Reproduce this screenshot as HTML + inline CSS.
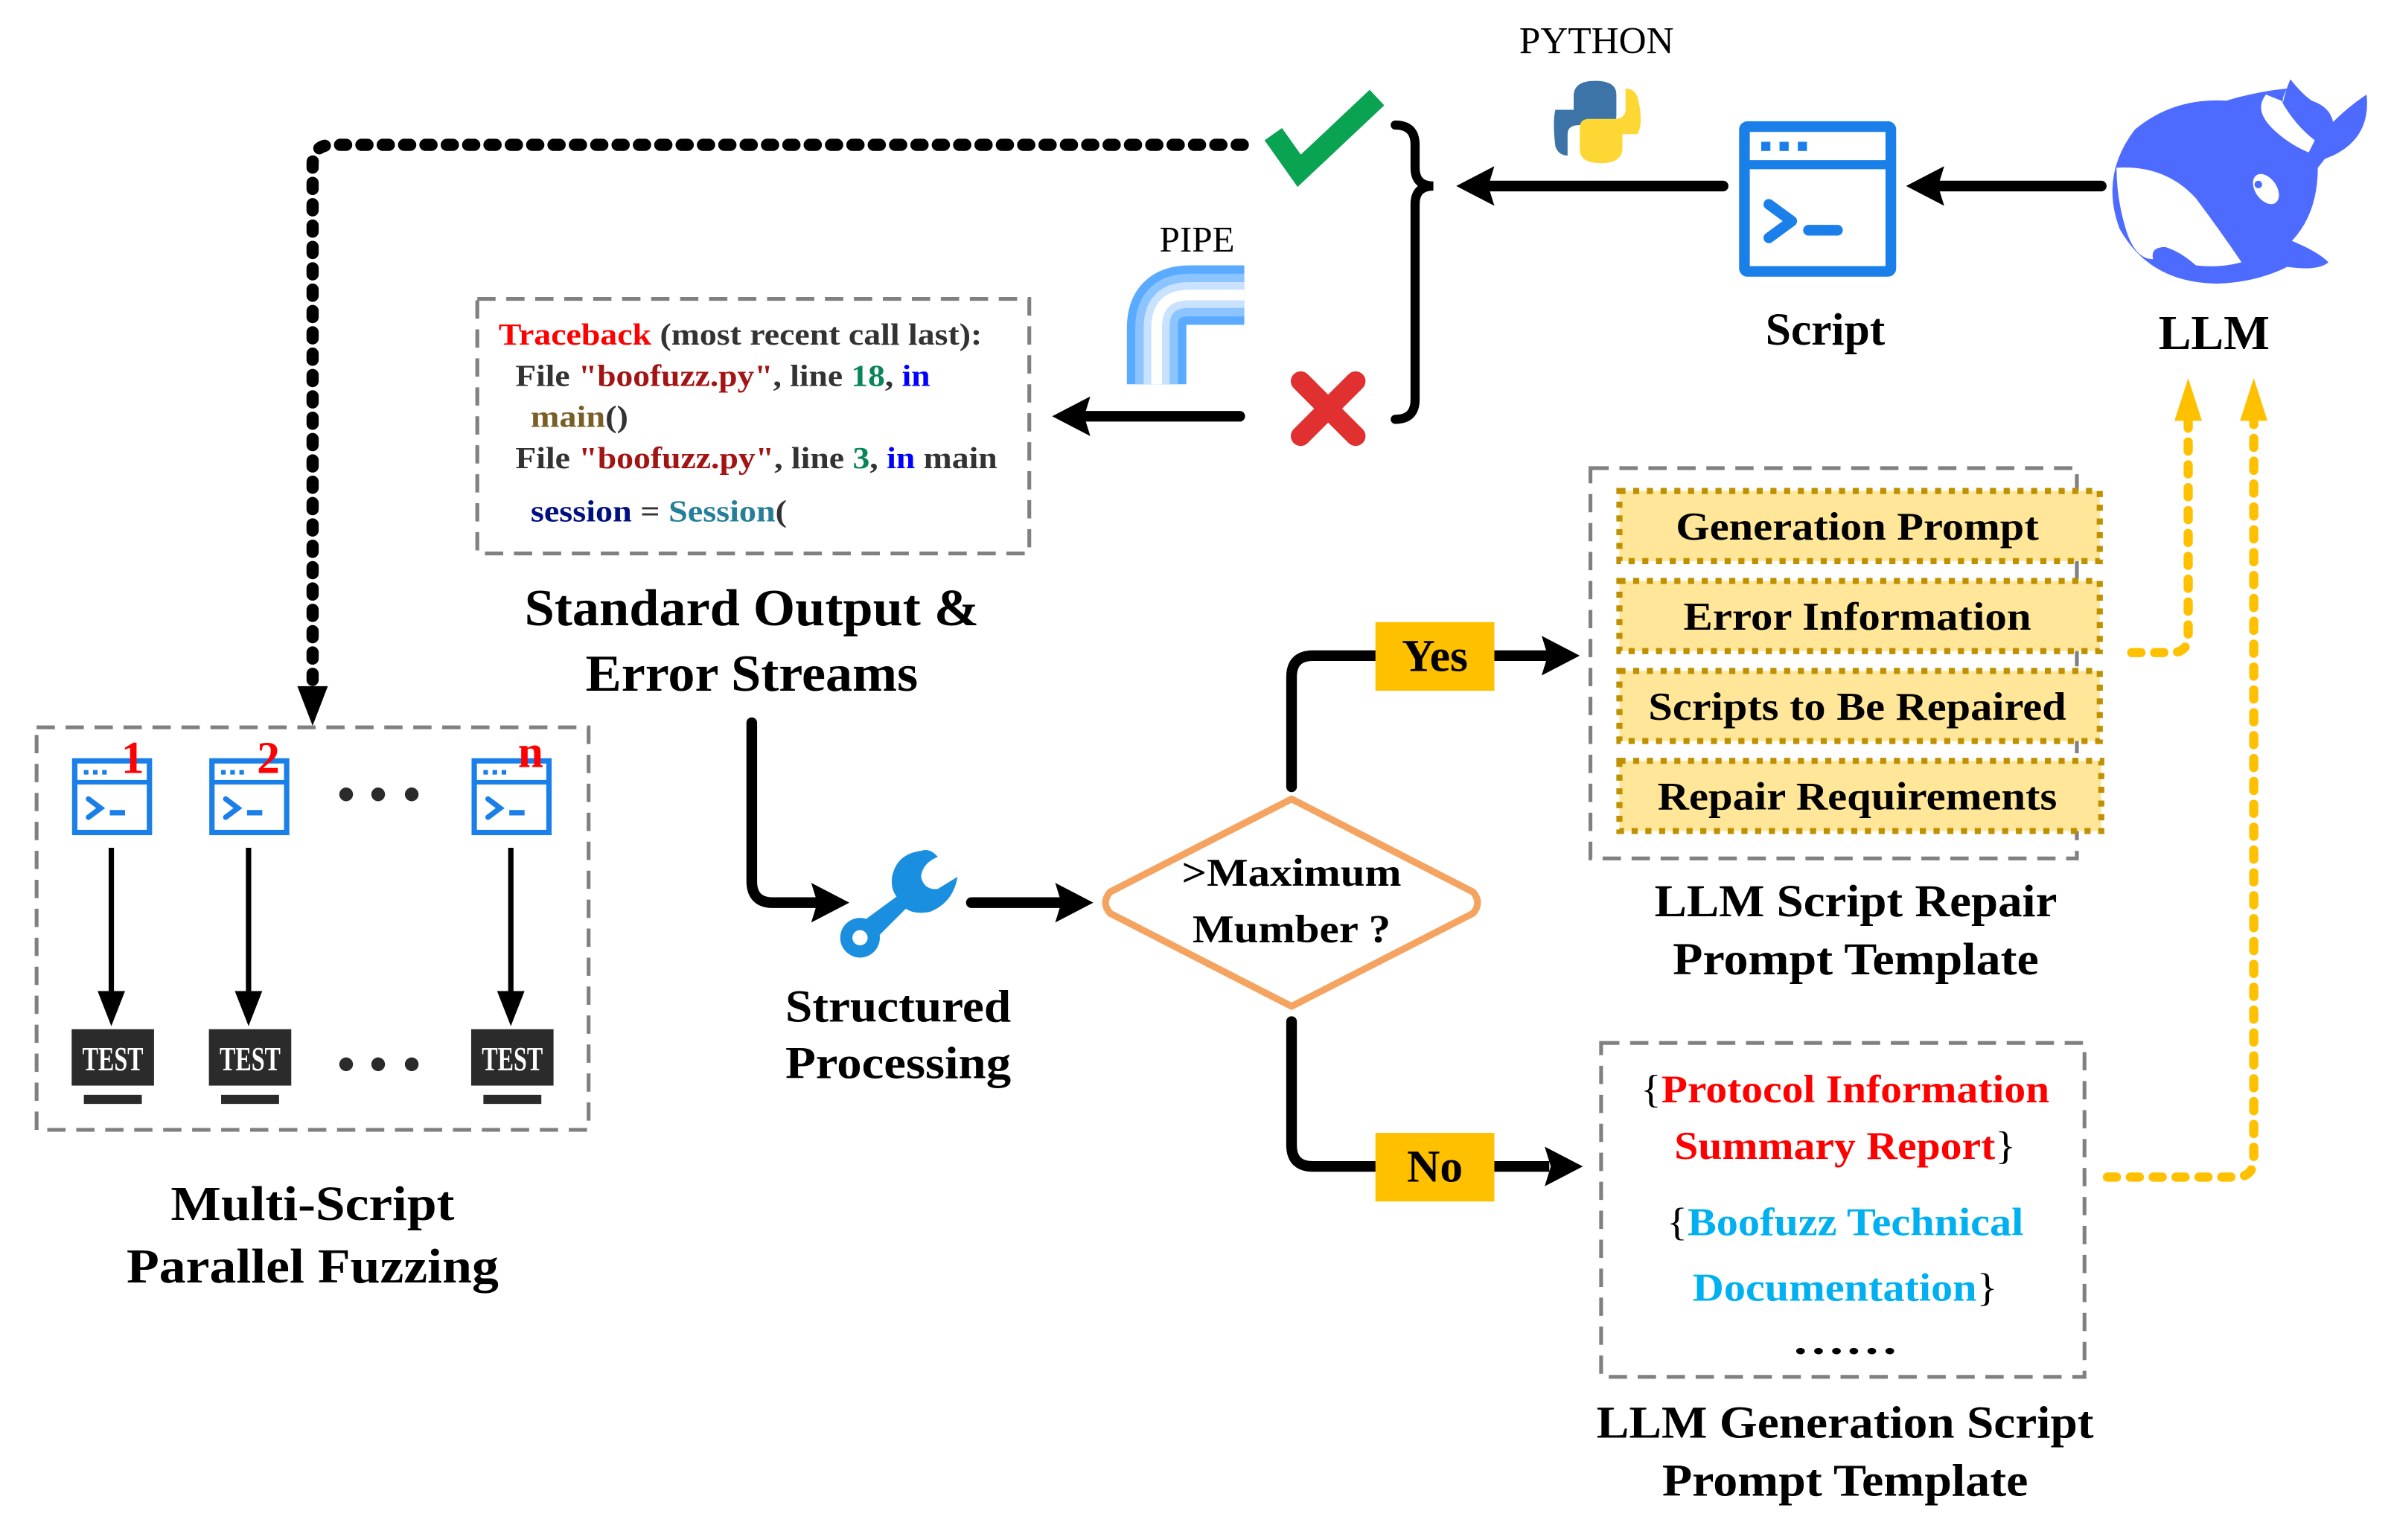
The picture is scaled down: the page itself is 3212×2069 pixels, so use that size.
<!DOCTYPE html>
<html><head><meta charset="utf-8"><style>
html,body{margin:0;padding:0;background:#fff;}
svg{display:block;font-family:"Liberation Serif","Times New Roman",Times,serif;}
svg text{font-family:"Liberation Serif","Times New Roman",Times,serif;}
</style></head><body>
<svg width="3212" height="2069" viewBox="0 0 1568 1010" preserveAspectRatio="none" xmlns="http://www.w3.org/2000/svg" font-family="Liberation Serif, Times New Roman, serif">

<!-- dotted black feedback path -->
<path d="M815,95 H218 Q205,95 205,108 V455" fill="none" stroke="#000" stroke-width="8" stroke-dasharray="4 10" stroke-linecap="round"/>
<path d="M195,450 L215,450 L205,476 z" fill="#000"/>

<!-- check -->
<path d="M835,88 L852,112 L903,64" fill="none" stroke="#0aa352" stroke-width="14" stroke-linejoin="miter"/>
<!-- red X -->
<g stroke="#e03030" stroke-width="13" stroke-linecap="round">
<line x1="853" y1="250" x2="889" y2="286"/><line x1="889" y1="250" x2="853" y2="286"/>
</g>
<!-- brace -->
<path d="M915,82 Q928,82 928,95 V110 Q928,122 940,122 Q928,122 928,134 V262 Q928,275 915,275" fill="none" stroke="#000" stroke-width="6" stroke-linecap="round"/>

<!-- arrows top -->
<line x1="1130" y1="122" x2="975" y2="122" stroke="#000" stroke-width="7" stroke-linecap="round"/>
<path d="M955,122 L980,109 L976,122 L980,135 z" fill="#000"/>
<line x1="1378" y1="122" x2="1270" y2="122" stroke="#000" stroke-width="7" stroke-linecap="round"/>
<path d="M1250,122 L1275,109 L1271,122 L1275,135 z" fill="#000"/>

<!-- python logo -->
<text x="1047" y="35" font-size="25" text-anchor="middle">PYTHON</text>
<g>
<path d="M1046,53 Q1032,53 1032,63 V72 H1020 Q1018,80 1020,96 Q1022,102 1028,102 V88 Q1028,82 1036,82 H1054 Q1060,82 1060,76 V62 Q1060,53 1046,53z" fill="#3d74a8"/>
<path d="M1050,107 Q1064,107 1064,97 V88 H1074 Q1078,80 1074,64 Q1072,58 1066,58 V72 Q1066,78 1058,78 H1042 Q1036,78 1036,84 V98 Q1036,107 1050,107z" fill="#fdd835"/>
</g>

<!-- script icon -->
<rect x="1144" y="83" width="96" height="95" rx="2" fill="none" stroke="#1a7fe8" stroke-width="7"/>
<line x1="1144" y1="108" x2="1240" y2="108" stroke="#1a7fe8" stroke-width="6"/>
<g fill="#1a7fe8"><rect x="1155" y="93" width="6" height="6"/><rect x="1167" y="93" width="6" height="6"/><rect x="1179" y="93" width="6" height="6"/></g>
<path d="M1160,134 L1175,145 L1160,156" fill="none" stroke="#1a7fe8" stroke-width="7" stroke-linecap="round" stroke-linejoin="round"/>
<line x1="1186" y1="151" x2="1205" y2="151" stroke="#1a7fe8" stroke-width="7" stroke-linecap="round"/>
<text x="1197" y="226" font-size="30" font-weight="bold" text-anchor="middle">Script</text>

<!-- whale -->
<g fill="#4d6bfe">
<path d="M1400,85 Q1425,64 1460,66 Q1480,60 1500,58 Q1492,70 1505,80 Q1520,92 1528,100 L1520,110 Q1520,140 1503,158 Q1520,165 1527,172 Q1520,178 1500,175 Q1480,185 1455,186 Q1410,186 1390,150 Q1377,115 1400,85z"/>
<path d="M1498,100 Q1492,75 1502,52 Q1510,62 1516,66 Q1528,70 1530,80 Q1540,70 1552,62 Q1555,90 1530,102 L1515,108z"/>
</g>
<g fill="#fff">
<path d="M1388,110 Q1420,108 1440,130 Q1455,150 1470,172 Q1455,176 1440,174 Q1430,165 1420,162 Q1410,162 1412,170 Q1400,170 1394,150 Q1388,130 1388,110z"/>
<path d="M1486,62 Q1478,72 1490,84 Q1500,94 1514,100 L1518,92 Q1505,82 1496,66z"/>
<ellipse cx="1486" cy="124" rx="7" ry="11" transform="rotate(-35 1486 124)"/>
</g>
<circle cx="1481" cy="121" r="2.5" fill="#4d6bfe"/>
<text x="1452" y="229" font-size="32" font-weight="bold" text-anchor="middle">LLM</text>

<!-- pipe -->
<text x="785" y="165" font-size="24" text-anchor="middle">PIPE</text>
<g fill="none" stroke-linejoin="round">
<path d="M758.5,252 V215 Q758.5,193.5 780,193.5 H816" stroke="#5aabff" stroke-width="39"/>
<path d="M758.5,252 V215 Q758.5,193.5 780,193.5 H816" stroke="#8cc4ff" stroke-width="28"/>
<path d="M758.5,252 V215 Q758.5,193.5 780,193.5 H816" stroke="#c8e2ff" stroke-width="17"/>
<path d="M758.5,252 V215 Q758.5,193.5 780,193.5 H816" stroke="#fff" stroke-width="7"/>
</g>
<line x1="813" y1="273" x2="710" y2="273" stroke="#000" stroke-width="7" stroke-linecap="round"/>
<path d="M690,273 L715,260 L711,273 L715,286 z" fill="#000"/>

<!-- traceback box -->
<rect x="313" y="196" width="362" height="167" fill="none" stroke="#808080" stroke-width="2.5" stroke-dasharray="12 7"/>
<g font-size="20" font-weight="bold">
<text x="327" y="226" textLength="317" lengthAdjust="spacingAndGlyphs"><tspan fill="#ff0000">Traceback</tspan><tspan fill="#333"> (most recent call last):</tspan></text>
<text x="338" y="253" textLength="272" lengthAdjust="spacingAndGlyphs"><tspan fill="#333">File </tspan><tspan fill="#a31515">"boofuzz.py"</tspan><tspan fill="#333">, line </tspan><tspan fill="#098658">18</tspan><tspan fill="#333">, </tspan><tspan fill="#0000ff">in</tspan></text>
<text x="348" y="280" textLength="64" lengthAdjust="spacingAndGlyphs"><tspan fill="#795e26">main</tspan><tspan fill="#333">()</tspan></text>
<text x="338" y="307" textLength="316" lengthAdjust="spacingAndGlyphs"><tspan fill="#333">File </tspan><tspan fill="#a31515">"boofuzz.py"</tspan><tspan fill="#333">, line </tspan><tspan fill="#098658">3</tspan><tspan fill="#333">, </tspan><tspan fill="#0000ff">in</tspan><tspan fill="#333"> main</tspan></text>
<text x="348" y="342" textLength="168" lengthAdjust="spacingAndGlyphs"><tspan fill="#001080">session</tspan><tspan fill="#333"> = </tspan><tspan fill="#267f99">Session</tspan><tspan fill="#333">(</tspan></text>
</g>
<g font-size="34" font-weight="bold" text-anchor="middle">
<text x="493" y="410" textLength="298" lengthAdjust="spacingAndGlyphs">Standard Output  &amp;</text>
<text x="493" y="453" textLength="218" lengthAdjust="spacingAndGlyphs">Error Streams</text>
</g>

<!-- to wrench -->
<path d="M493,474 V578 Q493,592 507,592 H535" fill="none" stroke="#000" stroke-width="7" stroke-linecap="round"/>
<path d="M557,592 L532,579 L536,592 L532,605 z" fill="#000"/>
<!-- wrench -->
<g fill="#1a8fe0">
<path d="M604,558 Q588,560 585,575 Q584,583 588,588 L558,610 L570,620 L594,596 Q600,600 610,598 Q625,592 628,575 L615,583 Q606,584 604,575 Q605,566 615,562 Q610,556 604,558z"/>
<circle cx="564" cy="615" r="13"/>
</g>
<circle cx="564" cy="615" r="5" fill="#fff"/>
<g font-size="30" font-weight="bold" text-anchor="middle">
<text x="589" y="670" textLength="148" lengthAdjust="spacingAndGlyphs">Structured</text>
<text x="589" y="707" textLength="148" lengthAdjust="spacingAndGlyphs">Processing</text>
</g>
<line x1="637" y1="592" x2="695" y2="592" stroke="#000" stroke-width="7" stroke-linecap="round"/>
<path d="M717,592 L692,579 L696,592 L692,605 z" fill="#000"/>

<!-- diamond -->
<path d="M847,524 L966,585 Q972,592 966,599 L847,660 L728,599 Q722,592 728,585 z" fill="#fff" stroke="#f4a460" stroke-width="4.5" stroke-linejoin="round"/>
<g font-size="26" font-weight="bold" text-anchor="middle">
<text x="847" y="581" textLength="144" lengthAdjust="spacingAndGlyphs">&gt;Maximum</text>
<text x="847" y="618" textLength="130" lengthAdjust="spacingAndGlyphs">Mumber ?</text>
</g>

<!-- yes branch -->
<path d="M847,516 V444 Q847,430 861,430 H905" fill="none" stroke="#000" stroke-width="7" stroke-linecap="round"/>
<rect x="902" y="408" width="78" height="45" fill="#ffc000"/>
<text x="941" y="440" font-size="30" font-weight="bold" text-anchor="middle">Yes</text>
<line x1="980" y1="430" x2="1015" y2="430" stroke="#000" stroke-width="7"/>
<path d="M1036,430 L1011,417 L1015,430 L1011,443 z" fill="#000"/>
<!-- no branch -->
<path d="M847,670 V751 Q847,765 861,765 H905" fill="none" stroke="#000" stroke-width="7" stroke-linecap="round"/>
<rect x="902" y="743" width="78" height="45" fill="#ffc000"/>
<text x="941" y="775" font-size="30" font-weight="bold" text-anchor="middle">No</text>
<line x1="980" y1="765" x2="1016" y2="765" stroke="#000" stroke-width="7"/>
<path d="M1038,765 L1013,752 L1017,765 L1013,778 z" fill="#000"/>

<!-- repair template -->
<rect x="1043" y="307" width="319" height="256" fill="none" stroke="#808080" stroke-width="2.5" stroke-dasharray="12 7"/>
<g fill="#ffe699" stroke="#bf9000" stroke-width="4" stroke-dasharray="4 5">
<rect x="1062" y="322" width="315" height="46"/>
<rect x="1062" y="381" width="315" height="46"/>
<rect x="1062" y="440" width="315" height="46"/>
<rect x="1062" y="499" width="316" height="46"/>
</g>
<g font-size="26" font-weight="bold" text-anchor="middle">
<text x="1218" y="354" textLength="238" lengthAdjust="spacingAndGlyphs">Generation Prompt</text>
<text x="1218" y="413" textLength="228" lengthAdjust="spacingAndGlyphs">Error Information</text>
<text x="1218" y="472" textLength="274" lengthAdjust="spacingAndGlyphs">Scripts to Be Repaired</text>
<text x="1218" y="531" textLength="262" lengthAdjust="spacingAndGlyphs">Repair Requirements</text>
</g>
<g font-size="30" font-weight="bold" text-anchor="middle">
<text x="1217" y="601" textLength="264" lengthAdjust="spacingAndGlyphs">LLM Script Repair</text>
<text x="1217" y="639" textLength="240" lengthAdjust="spacingAndGlyphs">Prompt Template</text>
</g>

<!-- generation template -->
<rect x="1050" y="684" width="317" height="219" fill="none" stroke="#808080" stroke-width="2.5" stroke-dasharray="12 7"/>
<g font-size="26" font-weight="bold" text-anchor="middle">
<text x="1210" y="723" textLength="268" lengthAdjust="spacingAndGlyphs"><tspan font-weight="normal">{</tspan><tspan fill="#ff0000">Protocol Information</tspan></text>
<text x="1210" y="760" textLength="224" lengthAdjust="spacingAndGlyphs"><tspan fill="#ff0000">Summary Report</tspan><tspan font-weight="normal">}</tspan></text>
<text x="1210" y="810" textLength="234" lengthAdjust="spacingAndGlyphs"><tspan font-weight="normal">{</tspan><tspan fill="#00b0f0">Boofuzz Technical</tspan></text>
<text x="1210" y="853" textLength="200" lengthAdjust="spacingAndGlyphs"><tspan fill="#00b0f0">Documentation</tspan><tspan font-weight="normal">}</tspan></text>
<text x="1210" y="888" textLength="70" lengthAdjust="spacingAndGlyphs">……</text>
</g>
<g font-size="30" font-weight="bold" text-anchor="middle">
<text x="1210" y="943" textLength="326" lengthAdjust="spacingAndGlyphs">LLM Generation Script</text>
<text x="1210" y="981" textLength="240" lengthAdjust="spacingAndGlyphs">Prompt Template</text>
</g>

<!-- yellow dotted arrows -->
<g fill="none" stroke="#ffc000" stroke-width="6" stroke-linecap="round" stroke-dasharray="6 9">
<path d="M1398,428 H1424 Q1435,428 1435,417 V272"/>
<path d="M1382,772 H1466 Q1478,772 1478,760 V272"/>
</g>
<path d="M1435,248 L1426,276 L1444,276 z" fill="#ffc000"/>
<path d="M1478,248 L1469,276 L1487,276 z" fill="#ffc000"/>

<!-- multi-script -->
<rect x="24" y="477" width="362" height="264" fill="none" stroke="#808080" stroke-width="2.5" stroke-dasharray="12 7"/>
<g id="sc">
<rect x="49" y="499" width="49" height="47" fill="none" stroke="#1a7fe8" stroke-width="3.5"/>
<line x1="49" y1="513" x2="98" y2="513" stroke="#1a7fe8" stroke-width="3"/>
<g fill="#1a7fe8"><rect x="55" y="505" width="3" height="3"/><rect x="61" y="505" width="3" height="3"/><rect x="67" y="505" width="3" height="3"/></g>
<path d="M58,524 L66,530 L58,536" fill="none" stroke="#1a7fe8" stroke-width="3.5" stroke-linecap="round"/>
<line x1="72" y1="533" x2="82" y2="533" stroke="#1a7fe8" stroke-width="3.5"/>
<line x1="73" y1="556" x2="73" y2="655" stroke="#000" stroke-width="3.5"/>
<path d="M73,673 L64,650 L82,650 z" fill="#000"/>
<rect x="47" y="675" width="54" height="37" fill="#2b2b2b"/>
<text x="74" y="702" font-size="22" font-weight="bold" fill="#fff" text-anchor="middle" font-family="Liberation Sans Narrow, Liberation Sans, sans-serif" textLength="40" lengthAdjust="spacingAndGlyphs">TEST</text>
<rect x="55" y="718" width="38" height="6" fill="#2b2b2b"/>
</g>
<use href="#sc" x="90"/>
<use href="#sc" x="262"/>
<g font-size="30" font-weight="bold" fill="#ff0000" text-anchor="middle">
<text x="87" y="507">1</text><text x="176" y="507">2</text><text x="348" y="503">n</text>
</g>
<g fill="#2b2b2b">
<circle cx="227" cy="521" r="4.5"/><circle cx="248" cy="521" r="4.5"/><circle cx="270" cy="521" r="4.5"/>
<circle cx="227" cy="698" r="4.5"/><circle cx="248" cy="698" r="4.5"/><circle cx="270" cy="698" r="4.5"/>
</g>
<g font-size="32" font-weight="bold" text-anchor="middle">
<text x="205" y="800" textLength="186" lengthAdjust="spacingAndGlyphs">Multi-Script</text>
<text x="205" y="841" textLength="244" lengthAdjust="spacingAndGlyphs">Parallel Fuzzing</text>
</g>
</svg>
</body></html>
